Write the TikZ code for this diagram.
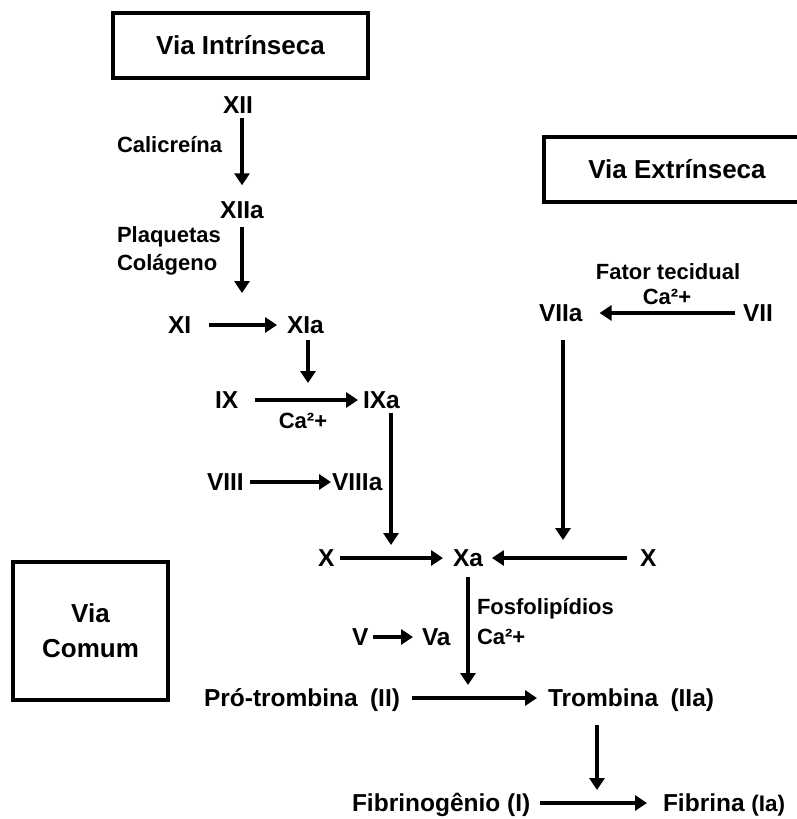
\documentclass[tikz,border=0pt]{standalone}
\usepackage{fontspec}
\setmainfont{Liberation Sans}
\usetikzlibrary{arrows.meta,calc}
\begin{document}
\begin{tikzpicture}[x=1pt,y=-1pt,
  main/.style={font=\fontsize{24.5}{29}\selectfont\bfseries, inner sep=0pt, outer sep=0pt, text height=17.5pt, text depth=0pt},
  sml/.style={font=\fontsize{22}{26}\selectfont\bfseries, inner sep=0pt, outer sep=0pt, text height=15.8pt, text depth=0pt},
  ttl/.style={font=\fontsize{26}{35}\selectfont\bfseries, draw, line width=3.2pt, inner sep=0pt, align=center},
  arr/.style={line width=3.4pt, -{Triangle[length=12pt,width=15pt]}},
]
\useasboundingbox (0,0) rectangle (796,819);

% title boxes
\node[ttl, minimum width=255pt, minimum height=65pt] (vi) at (240.5,45.5) {Via Intrínseca};
\node[ttl, minimum width=266pt, minimum height=65pt] (ve) at (677,169.5) {Via Extrínseca};
\node[ttl, minimum width=155pt, minimum height=138pt] (vc) at (90.5,631) {Via\\Comum};

% intrinsic pathway
\node[main] (XII) at (238,105) {XII};
\node[main] (XIIa) at (242,210) {XIIa};
\node[sml, anchor=west] (cal) at (117,145) {Calicreína};
\node[sml, anchor=west] (plaq) at (117,235) {Plaquetas};
\node[sml, anchor=west] (col) at (117,263) {Colágeno};
\node[main, anchor=west] (XI) at (168,325) {XI};
\node[main, anchor=west] (XIa) at (287,325) {XIa};
\node[main, anchor=west] (IX) at (215,400) {IX};
\node[main, anchor=west] (IXa) at (363,400) {IXa};
\node[sml] (ca1) at (303,421) {Ca²+};
\node[main, anchor=west] (VIII) at (207,482) {VIII};
\node[main, anchor=west] (VIIIa) at (332,482) {VIIIa};

% extrinsic pathway
\node[sml] (fat) at (668,272) {Fator tecidual};
\node[sml] (ca2) at (667,297) {Ca²+};
\node[main, anchor=west] (VIIa) at (539,313) {VIIa};
\node[main, anchor=west] (VII) at (743,313) {VII};

% common pathway
\node[main, anchor=west] (X1) at (318,558) {X};
\node[main, anchor=west] (Xa) at (453,558) {Xa};
\node[main, anchor=west] (X2) at (640,558) {X};
\node[main, anchor=west] (V) at (352,637) {V};
\node[main, anchor=west] (Va) at (422,637) {Va};
\node[sml, anchor=west] (fos) at (477,607) {Fosfolipídios};
\node[sml, anchor=west] (ca3) at (477,637) {Ca²+};
\node[main, anchor=east] (pro) at (400,698) {Pró-trombina\hspace{0.5em}(II)};
\node[main, anchor=west] (tro) at (548,698) {Trombina\hspace{0.5em}(IIa)};
\node[main, anchor=west] (fibg) at (352,803) {Fibrinogênio (I)};
\node[main, anchor=west] (fib) at (663,803) {Fibrina {\fontsize{22.5}{26}\selectfont (Ia)}};

% junction points on horizontal arrows
\coordinate (j0) at (242,325);
\coordinate (j1) at (308,400);
\coordinate (j2) at (391,558);
\coordinate (j3) at (563,558);
\coordinate (j4) at (468,698);
\coordinate (j5) at (597,803);

% horizontal arrows
\draw[arr, shorten <=18pt, shorten >=10pt] (XI.east) -- (XIa.west);
\draw[arr, shorten <=17pt, shorten >=5pt] (IX.east) -- (IXa.west);
\draw[arr, shorten <=6pt, shorten >=1pt] (VIII.east) -- (VIIIa.west);
\draw[arr, shorten <=6pt, shorten >=10pt] (X1.east) -- (Xa.west);
\draw[arr, shorten <=13pt, shorten >=9pt] (X2.west) -- (Xa.east);
\draw[arr, shorten <=8pt, shorten >=17pt] (VII.west) -- (VIIa.east);
\draw[arr, shorten <=5pt, shorten >=9pt] (V.east) -- (Va.west);
\draw[arr, shorten <=12pt, shorten >=11pt] (pro.east) -- (tro.west);
\draw[arr, shorten <=10pt, shorten >=16pt] (fibg.east) -- (fib.west);

% vertical arrows
\draw[arr, shorten <=4pt, shorten >=16pt] (XII.south -| XIIa) -- (XIIa.north);
\draw[arr, shorten <=8pt, shorten >=32pt] (XIIa.south -| j0) -- (j0);
\draw[arr, shorten <=6pt, shorten >=17pt] (XIa.south -| j1) -- (j1);
\draw[arr, shorten <=4pt, shorten >=13pt] (IXa.south -| j2) -- (j2);
\draw[arr, shorten <=18pt, shorten >=18pt] (VIIa.south -| j3) -- (j3);
\draw[arr, shorten <=10pt, shorten >=13pt] (Xa.south -| j4) -- (j4);
\draw[arr, shorten <=18pt, shorten >=13pt] (tro.south -| j5) -- (j5);
\end{tikzpicture}
\end{document}
